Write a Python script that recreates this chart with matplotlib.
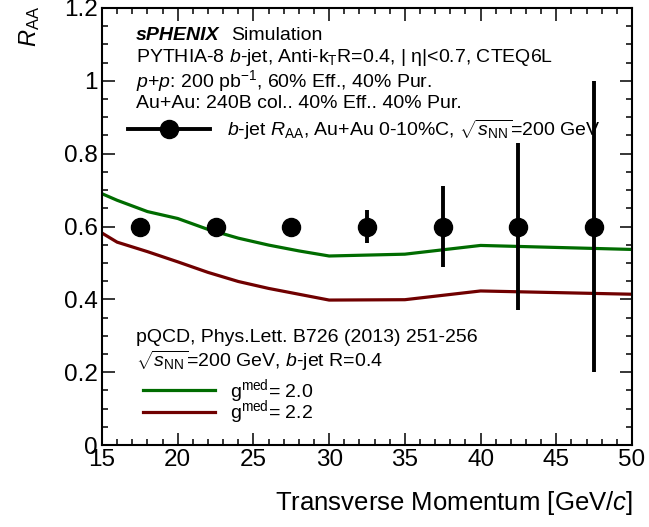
import matplotlib
matplotlib.use('Agg')
import matplotlib.pyplot as plt
from matplotlib.lines import Line2D
from matplotlib.ticker import MultipleLocator

plt.rcParams['font.family'] = ['Liberation Sans', 'DejaVu Sans']
plt.rcParams['mathtext.fontset'] = 'custom'
plt.rcParams['mathtext.rm'] = 'Liberation Sans'
plt.rcParams['mathtext.it'] = 'Liberation Sans:italic'
plt.rcParams['mathtext.bf'] = 'Liberation Sans:bold'

# projected b-jet R_AA points
pt = [17.5, 22.5, 27.5, 32.5, 37.5, 42.5, 47.5]
raa = [0.6, 0.6, 0.6, 0.6, 0.6, 0.6, 0.6]
raa_err = [0.01, 0.012, 0.018, 0.045, 0.11, 0.23, 0.40]

# pQCD curves
theory_pt = [15, 16, 18, 20, 22, 24, 26, 28, 30, 35, 40, 50]
gmed_20 = [0.690, 0.672, 0.641, 0.622, 0.592, 0.568, 0.549, 0.533, 0.519, 0.524, 0.548, 0.537]
gmed_22 = [0.582, 0.557, 0.531, 0.503, 0.474, 0.449, 0.430, 0.414, 0.398, 0.399, 0.423, 0.414]

yticks = [0, 0.2, 0.4, 0.6, 0.8, 1.0, 1.2]
ytick_labels = ['0', '0.2', '0.4', '0.6', '0.8', '1', '1.2']
xticks = [15, 20, 25, 30, 35, 40, 45, 50]

W, H = 649, 527
fig = plt.figure(figsize=(W / 100, H / 100), dpi=100)
ax = fig.add_axes([102 / W, 1 - 445 / H, 530 / W, 437 / H])

green = '#006c00'
darkred = '#700000'
fs = 14

ax.plot(theory_pt, gmed_20, color=green, lw=2.3, solid_joinstyle='round')
ax.plot(theory_pt, gmed_22, color=darkred, lw=2.3, solid_joinstyle='round')
ax.errorbar(pt, raa, yerr=raa_err, fmt='o', color='k', ms=13,
            elinewidth=2.8, capsize=0, zorder=5)

ax.set_xlim(15, 50)
ax.set_ylim(0, 1.2)
ax.set_xticks(xticks)
ax.set_xticklabels([str(v) for v in xticks])
ax.set_yticks(yticks)
ax.set_yticklabels(ytick_labels)
ax.xaxis.set_minor_locator(MultipleLocator(1))
ax.yaxis.set_minor_locator(MultipleLocator(0.05))
ax.tick_params(which='both', direction='in', top=True, right=True,
               labelsize=17.5, width=1.1)
ax.tick_params(which='major', length=9, pad=3)
ax.tick_params(which='minor', length=4.5)
for s in ax.spines.values():
    s.set_linewidth(1.5)


def axpos(px, py):
    return (px - 102) / 530, (445 - py) / 437


tx, ty = axpos(136, 35)
ax.text(tx, ty, 'sPHENIX', transform=ax.transAxes, fontsize=fs,
        fontweight='bold', style='italic', va='center')
tx, ty = axpos(231, 35)
ax.text(tx, ty, 'Simulation', transform=ax.transAxes, fontsize=fs, va='center')

lines = [
    (58, r'PYTHIA-8 $b$-jet, Anti-k$_{\mathrm{T}}$R=0.4, | η|<0.7, CTEQ6L'),
    (81, r'$p$+$p$: 200 pb$^{-1}$, 60% Eff., 40% Pur.'),
    (103, 'Au+Au: 240B col.. 40% Eff.. 40% Pur.'),
    (338, 'pQCD, Phys.Lett. B726 (2013) 251-256'),
    (361, r'$\sqrt{s_{\mathrm{NN}}}$=200 GeV, $b$-jet R=0.4'),
]
for py, s in lines:
    tx, ty = axpos(136, py)
    ax.text(tx, ty, s, transform=ax.transAxes, fontsize=fs, va='center')

# data legend
h_data = Line2D([], [], color='k', lw=2.8, marker='o', ms=13)
lx, ly = axpos(128, 130)
leg1 = ax.legend([h_data],
                 [r'$b$-jet $R_{\mathrm{AA}}$, Au+Au 0-10%C, $\sqrt{s_{\mathrm{NN}}}$=200 GeV'],
                 loc='center left', bbox_to_anchor=(lx, ly), frameon=False,
                 fontsize=fs, handlelength=4.2, handletextpad=0.9,
                 borderpad=0, borderaxespad=0)
ax.add_artist(leg1)

# theory legend
h20 = Line2D([], [], color=green, lw=2.3)
h22 = Line2D([], [], color=darkred, lw=2.3)
lx, ly = axpos(143, 401.5)
ax.legend([h20, h22], [r'g$^{\mathrm{med}}$= 2.0', r'g$^{\mathrm{med}}$= 2.2'],
          loc='center left', bbox_to_anchor=(lx, ly), frameon=False,
          fontsize=fs, handlelength=3.7, handletextpad=0.8,
          labelspacing=-0.32, borderpad=0, borderaxespad=0)

fig.text(30 / W, 1 - 6 / H, r'$R_{\mathrm{AA}}$', rotation=90,
         ha='center', va='top', fontsize=17)
fig.text(633 / W, 1 - 503 / H, r'Transverse Momentum [GeV/$c$]',
         ha='right', va='center', fontsize=18.5)

fig.savefig('out.png', dpi=100)
